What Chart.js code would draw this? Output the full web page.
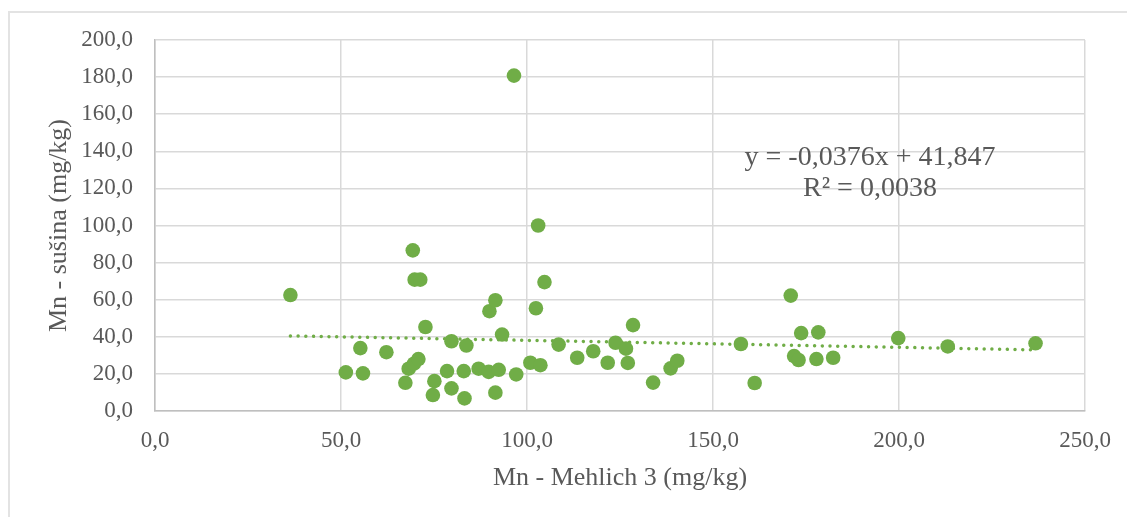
<!DOCTYPE html>
<html>
<head>
<meta charset="utf-8">
<script src="https://cdn.jsdelivr.net/npm/chart.js@4.4.1/dist/chart.umd.min.js"></script>
<style>
    html, body { margin: 0; padding: 0; background: #ffffff; overflow: hidden; }
    #frame {
        position: absolute; left: 8px; top: 11px; width: 1200px; height: 600px;
        border-left: 2px solid #e3e3e3; border-top: 2px solid #e3e3e3;
    }
    #wrap { position: absolute; left: 0; top: 0; width: 1127px; height: 517px; }
</style>
</head>
<body>
<div id="frame"></div>
<div id="wrap"><canvas id="mnChart" width="1127" height="517"></canvas></div>
<script>
// Mn - Mehlich 3 (mg/kg) na osi x
var mehlichX = [36.4, 51.3, 55.2, 55.9, 62.2, 67.3, 68.2, 69.3, 69.6, 69.8, 70.8, 71.3, 72.7, 74.7, 75.1,
    78.5, 79.7, 79.7, 83.0, 83.2, 83.7, 87.0, 89.7, 89.9, 91.5, 91.5, 92.4, 93.3, 96.5, 97.1,
    100.9, 102.4, 103.0, 103.6, 104.7, 108.5, 113.5, 117.8, 121.7, 123.8, 126.6, 127.1, 128.5, 133.9, 138.6,
    140.4, 157.5, 161.2, 170.9, 171.8, 173.0, 173.7, 177.8, 178.3, 182.3, 199.8, 213.1, 236.7];
// Mn - sušina (mg/kg) na osi y
var susinaY = [62.5, 20.8, 33.9, 20.3, 31.7, 15.2, 22.8, 86.6, 25.5, 70.8, 28.0, 70.8, 45.3, 8.6, 16.1,
    21.5, 37.6, 12.2, 21.5, 6.8, 35.3, 22.8, 21.1, 53.8, 59.7, 9.9, 22.2, 41.2, 180.8, 19.7,
    26.0, 55.4, 100.0, 24.7, 69.5, 35.8, 28.7, 32.2, 26.0, 36.8, 33.6, 25.9, 46.3, 15.3, 23.0,
    27.1, 36.1, 15.1, 62.2, 29.6, 27.5, 42.0, 28.0, 42.4, 28.7, 39.3, 34.8, 36.5];

var xTicks = [0, 50, 100, 150, 200, 250];
var yTicks = [0, 20, 40, 60, 80, 100, 120, 140, 160, 180, 200];

// linearni trend iz Excela
var trendSlope = -0.0376;
var trendIntercept = 41.847;
var trendLabel = ['y = -0,0376x + 41,847', 'R² = 0,0038'];

var green = '#70AD47';
var textGrey = '#595959';
var fontName = '"Liberation Serif", "Times New Roman", serif';

var points = mehlichX.map(function(x, i) { return { x: x, y: susinaY[i] }; });
var xMin = Math.min.apply(null, mehlichX);
var xMax = Math.max.apply(null, mehlichX);
var trendPoints = [
    { x: xMin, y: trendSlope * xMin + trendIntercept },
    { x: xMax, y: trendSlope * xMax + trendIntercept }
];

function fmt(v) {
    return v.toFixed(1).replace('.', ',');
}

// ispis jednadzbe pravca
var equationPlugin = {
    id: 'equation',
    afterDatasetsDraw: function(chart) {
        var ctx = chart.ctx;
        var cx = chart.scales.x.getPixelForValue(192.2);
        var cy = chart.scales.y.getPixelForValue(136.4);
        ctx.save();
        ctx.font = '28px ' + fontName;
        ctx.fillStyle = textGrey;
        ctx.textAlign = 'center';
        ctx.textBaseline = 'middle';
        ctx.fillText(trendLabel[0], cx, cy);
        ctx.fillText(trendLabel[1], cx, cy + 31);
        ctx.restore();
    }
};

var ctx = document.getElementById('mnChart').getContext('2d');
new Chart(ctx, {
    type: 'scatter',
    data: {
        datasets: [{
            label: 'Mn',
            data: points,
            backgroundColor: green,
            borderColor: green,
            pointRadius: 7.3,
            pointHoverRadius: 7.3,
            borderWidth: 0,
            order: 0
        }, {
            label: 'Linearni trend',
            type: 'line',
            data: trendPoints,
            borderColor: green,
            borderWidth: 3.5,
            borderDash: [0.01, 7.7],
            borderCapStyle: 'round',
            pointRadius: 0,
            fill: false,
            order: 1
        }]
    },
    options: {
        responsive: false,
        animation: false,
        layout: { padding: { top: 40, right: 42, left: 0, bottom: 0 } },
        plugins: {
            legend: { display: false },
            tooltip: { enabled: false }
        },
        scales: {
            x: {
                type: 'linear',
                min: 0,
                max: 250,
                afterFit: function(scale) { scale.height = 106; },
                afterBuildTicks: function(scale) {
                    scale.ticks = xTicks.map(function(v) { return { value: v }; });
                },
                grid: { color: '#d9d9d9', lineWidth: 1.5, drawTicks: false },
                border: { color: '#bfbfbf', width: 1.5 },
                ticks: {
                    padding: 16,
                    color: textGrey,
                    font: { family: fontName, size: 23 },
                    callback: function(v) { return fmt(v); }
                },
                title: {
                    display: true,
                    text: 'Mn - Mehlich 3 (mg/kg)',
                    color: textGrey,
                    font: { family: fontName, size: 26 },
                    padding: { top: 0, bottom: 23 }
                }
            },
            y: {
                type: 'linear',
                min: 0,
                max: 200,
                afterFit: function(scale) { scale.width = 155; },
                afterBuildTicks: function(scale) {
                    scale.ticks = yTicks.map(function(v) { return { value: v }; });
                },
                grid: { color: '#d9d9d9', lineWidth: 1.5, drawTicks: false },
                border: { color: '#bfbfbf', width: 1.5 },
                ticks: {
                    padding: 22,
                    color: textGrey,
                    font: { family: fontName, size: 23 },
                    callback: function(v) { return fmt(v); }
                },
                title: {
                    display: true,
                    text: 'Mn - sušina (mg/kg)',
                    color: textGrey,
                    font: { family: fontName, size: 26 },
                    padding: { top: 44, bottom: 0 }
                }
            }
        }
    },
    plugins: [equationPlugin]
});
</script>
</body>
</html>
